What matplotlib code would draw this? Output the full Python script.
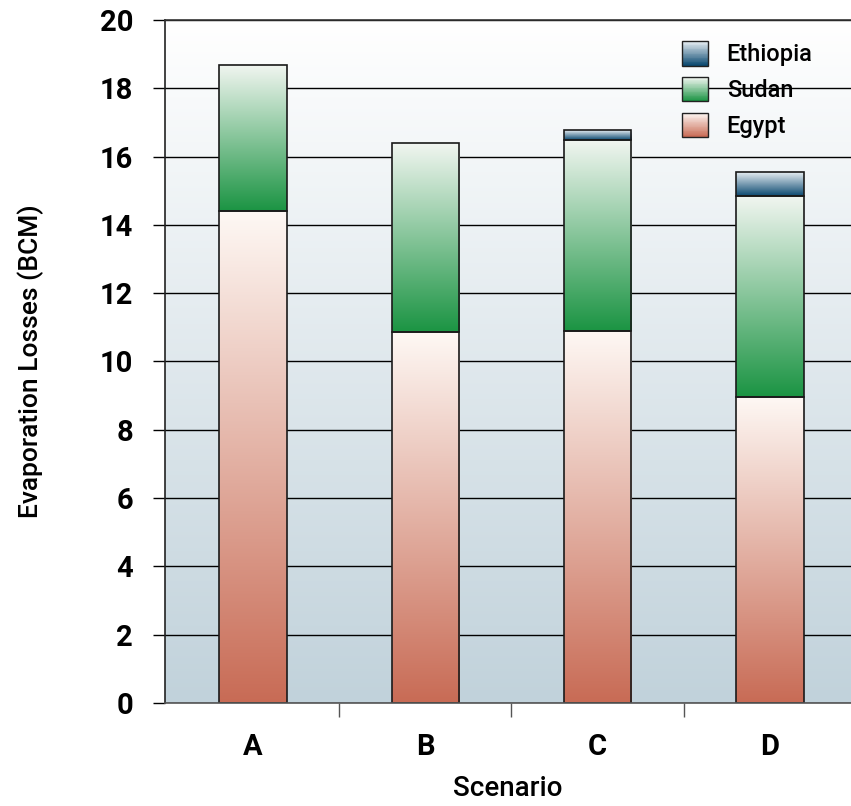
import numpy as np
import matplotlib.pyplot as plt
from matplotlib.colors import LinearSegmentedColormap
from matplotlib.patches import Rectangle
from matplotlib.legend_handler import HandlerBase

plt.rcParams['font.family'] = ['Roboto', 'DejaVu Sans']
plt.rcParams['font.weight'] = 'bold'
plt.rcParams['axes.labelweight'] = 'medium'

scenarios = ['A', 'B', 'C', 'D']
egypt = [14.4, 10.85, 10.9, 8.95]
sudan = [4.3, 5.55, 5.6, 5.9]
ethiopia = [0.0, 0.0, 0.28, 0.7]

# (top colour, bottom colour) of each gradient
grad_colors = {
    'Egypt': ('#fef8f4', '#c86b55'),
    'Sudan': ('#f2f6f1', '#1b9443'),
    'Ethiopia': ('#e6edf2', '#0b4970'),
}


def vgrad(top, bottom):
    cm = LinearSegmentedColormap.from_list('g', [bottom, top])
    return cm, np.linspace(0, 1, 256).reshape(-1, 1)


class GradientHandler(HandlerBase):
    def __init__(self, top, bottom):
        super().__init__()
        self.top, self.bottom = top, bottom

    def create_artists(self, legend, orig_handle, xdescent, ydescent,
                       width, height, fontsize, trans):
        cm, _ = vgrad(self.top, self.bottom)
        n = 30
        arts = []
        for i in range(n):
            r = Rectangle((-xdescent, -ydescent + height * i / n), width,
                          height / n + 0.05, facecolor=cm(i / (n - 1)),
                          edgecolor='none', transform=trans)
            arts.append(r)
        arts.append(Rectangle((-xdescent, -ydescent), width, height,
                              facecolor='none', edgecolor='#222222', lw=1,
                              transform=trans))
        return arts


fig = plt.figure(figsize=(8.51, 8.06), dpi=100)
ax = fig.add_axes([0.194, 0.128, 0.806, 0.847])

x = np.arange(len(scenarios))
width = 0.39

# background fade
bg_cm, bg = vgrad('#ffffff', '#c1d2db')
ax.imshow(bg, cmap=bg_cm, origin='lower', aspect='auto',
          extent=[0, 1, 0, 1], transform=ax.transAxes, zorder=0)

ax.yaxis.grid(True, color='black', lw=1)
ax.set_axisbelow(True)

bottoms = np.zeros(len(scenarios))
series = [('Egypt', egypt), ('Sudan', sudan), ('Ethiopia', ethiopia)]
for name, vals in series:
    bars = ax.bar(x, vals, width, bottom=bottoms, facecolor='none',
                  edgecolor='#1a1a1a', lw=1.2, zorder=3)
    cm, g = vgrad(*grad_colors[name])
    for b in bars:
        if b.get_height() <= 0:
            b.set_visible(False)
            continue
        x0, y0 = b.get_x(), b.get_y()
        ax.imshow(g, cmap=cm, origin='lower', aspect='auto', zorder=2,
                  extent=[x0, x0 + b.get_width(), y0, y0 + b.get_height()])
    bottoms += np.array(vals)

ax.set_xlim(-0.51, 3.47)
ax.set_ylim(0, 20)

ax.set_yticks(np.arange(0, 21, 2))
ax.tick_params(axis='y', length=9, width=1, pad=14, labelsize=21)
ax.set_xticks(x)
ax.set_xticklabels(scenarios)
ax.set_xticks(x[:-1] + 0.5, minor=True)
ax.tick_params(axis='x', which='major', length=0, pad=22, labelsize=21)
ax.tick_params(axis='x', which='minor', length=10, width=1, color='#555555')

ax.spines['right'].set_visible(False)
ax.spines['left'].set_color('#222222')
ax.spines['top'].set_color('#333333')
ax.spines['bottom'].set_color('#555555')
for s in ax.spines.values():
    s.set_linewidth(1.2)
    s.set_zorder(4)

ax.set_ylabel('Evaporation Losses (BCM)', fontsize=19, labelpad=40)
ax.set_xlabel('Scenario', fontsize=20, labelpad=10)

handles = [Rectangle((0, 0), 1, 1) for _ in range(3)]
names = ['Ethiopia', 'Sudan', 'Egypt']
leg = ax.legend(handles, names, loc='upper right',
                bbox_to_anchor=(0.975, 1.0), frameon=False,
                handlelength=1.1, handleheight=1.2, handletextpad=0.8,
                labelspacing=0.45,
                prop={'size': 17, 'weight': 'medium'},
                handler_map={h: GradientHandler(*grad_colors[n])
                             for h, n in zip(handles, names)})
leg.set_zorder(5)

fig.savefig('out.png', dpi=100)
